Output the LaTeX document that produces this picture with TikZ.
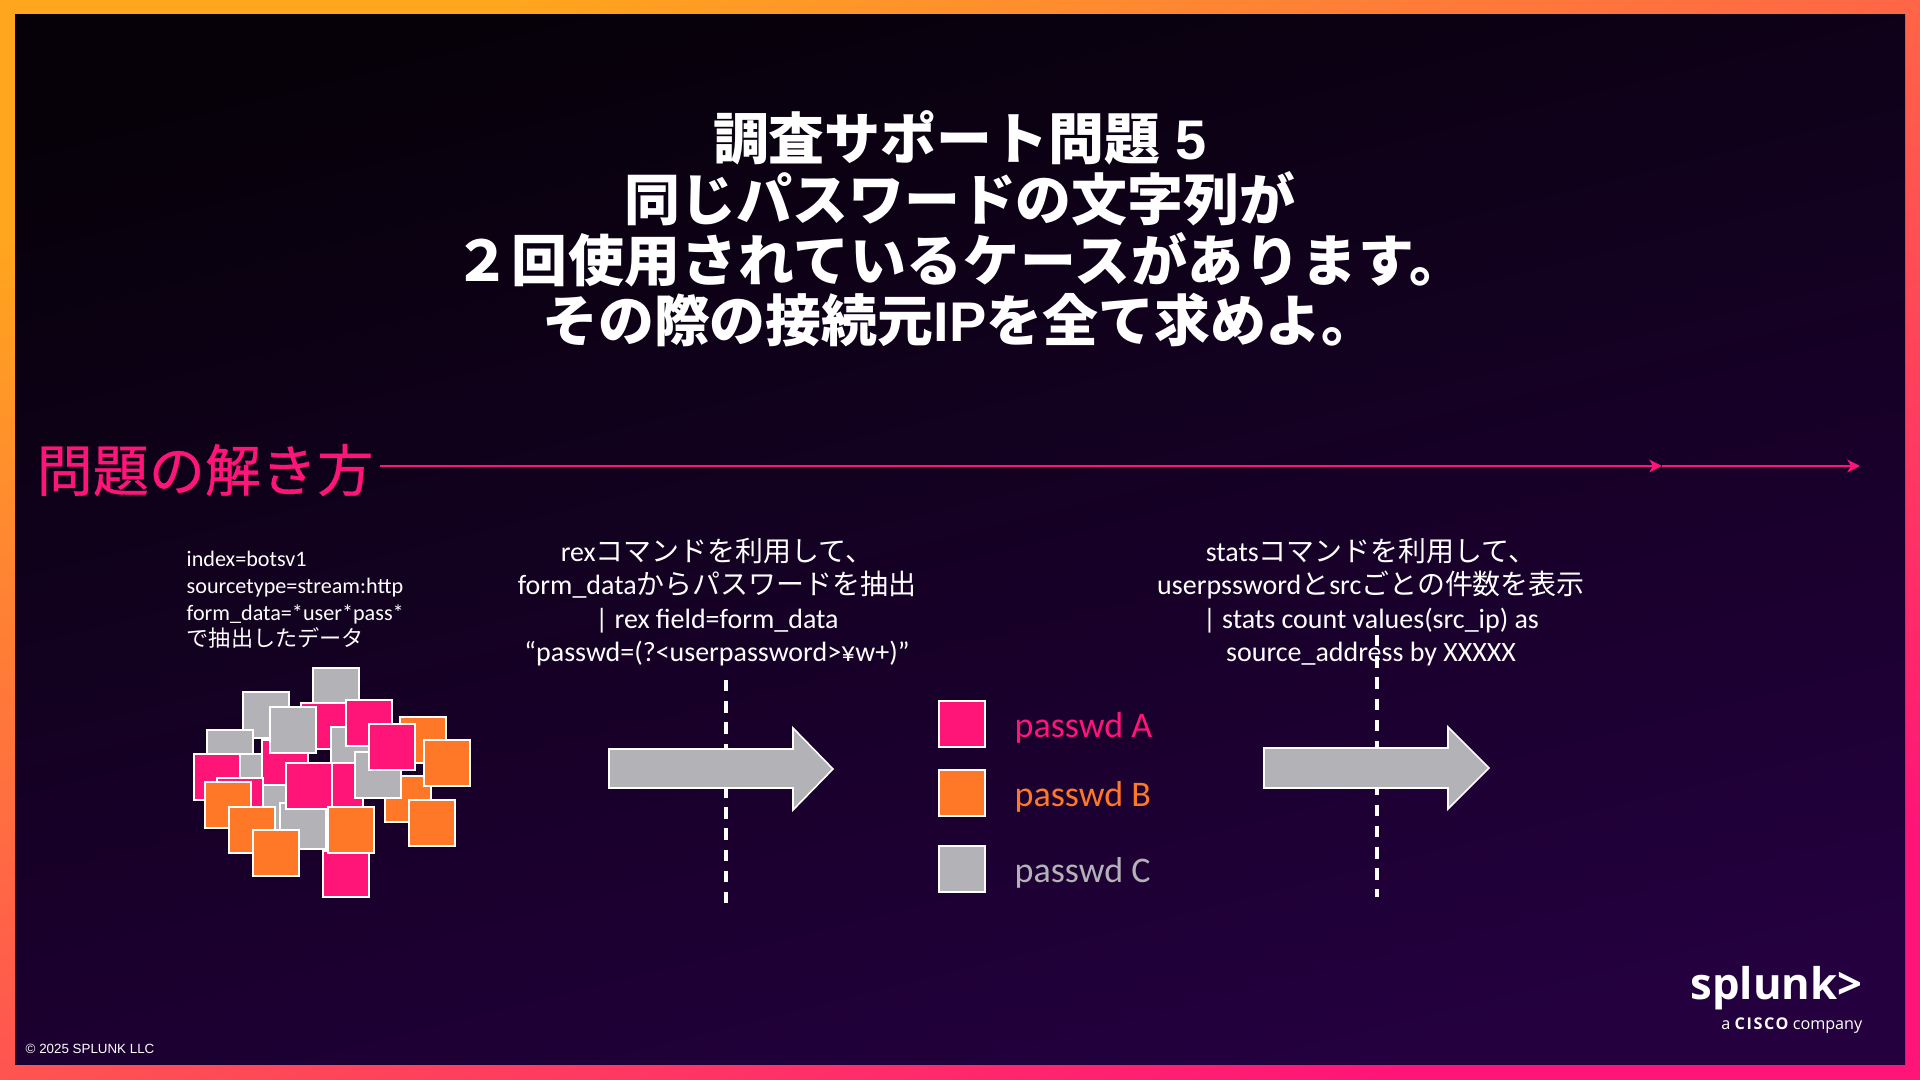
\documentclass[tikz,border=0pt]{standalone}
\usepackage{fontspec}
\setmainfont{Carlito}
\newfontfamily\jpfont{Noto Sans CJK JP}
\newfontfamily\jpwide[LetterSpace=1.5]{Noto Sans CJK JP}
\newfontfamily\jpheavy[FakeBold=0.6]{Noto Sans CJK JP}
\newfontfamily\headfont{Liberation Sans}
\newfontfamily\logofont{Open Sans}
\newfontfamily\ciscofont[LetterSpace=10]{Open Sans}
\newcommand{\jp}[1]{{\jpfont #1}}
\newcommand{\pxfont}[2]{\fontsize{#1}{#2}\selectfont}
\definecolor{chippink}{HTML}{FF1478}
\definecolor{chiporange}{HTML}{FF7828}
\definecolor{chipgray}{HTML}{B2B2B7}
\definecolor{frametop}{HTML}{FFA51E}
\definecolor{framemid}{HTML}{FF6A48}
\definecolor{inkdark}{HTML}{060109}
\definecolor{inkpurple}{HTML}{24003F}
\tikzset{
  chip/.style={draw=white,line width=0.45pt,fill=#1},
  bigarrow/.style={draw=white,line width=0.45pt,fill=chipgray},
  divider/.style={draw=white,line width=1pt,dash pattern=on 3.27pt off 2.76pt},
  flow/.style={draw=chippink,line width=0.6pt,-{Stealth[length=3.6pt,width=3.6pt,inset=1pt]}},
  bodytext/.style={text=white,inner sep=0pt,align=center,font=\pxfont{7.95}{9.55}},
  keylabel/.style={inner sep=0pt,anchor=west,font=\pxfont{10.25}{11}}
}
\usetikzlibrary{arrows.meta}
\begin{document}
\begin{tikzpicture}[x=0.01cm,y=-0.01cm]
\useasboundingbox (0,0) rectangle (1920,1080);
\shade[top color=frametop,middle color=framemid,bottom color=chippink,shading angle=25] (0,0) rectangle (1920,1080);
\shade[top color=inkdark,bottom color=inkpurple,shading angle=14] (15,15) rectangle (1905,1065);

\node[text=white,inner sep=0pt,align=center,font=\headfont\bfseries\pxfont{15.9}{17.3}] (title) at (960,229)
  {\jp{調査サポート問題} 5\\\jp{同じパスワードの文字列が}\\{\jpwide ２回使用されているケースがあります。}\\\jp{その際の接続元}IP\jp{を全て求めよ。}};

\node[text=chippink,inner sep=0pt,anchor=west,font=\jpheavy\pxfont{15.95}{17}] (howto) at (36,470) {問題の解き方};
\coordinate (flowa) at (1662,466);
\coordinate (flowb) at (1860,466);
\draw[flow] (howto.east |- flowa) ++(6,0) -- (flowa);
\draw[flow] (flowa) -- (flowb);

\node[text=white,inner sep=0pt,anchor=west,align=left,font=\pxfont{6.3}{7.6}] (query) at (186,600)
  {index=botsv1\\sourcetype=stream:http\\form\_data=*user*pass*\\\jp{で抽出したデータ}};

\foreach \cx/\cy/\cc in {313/668/chipgray,243/692/chipgray,301/703/chippink,207/730/chipgray,238/754/chipgray,
  262/740/chippink,400/717/chiporange,331/727/chipgray,346/700/chippink,270/707/chipgray,247/785/chipgray,
  194/754/chippink,217/778/chippink,205/782/chiporange,229/807/chiporange,280/803/chipgray,317/763/chippink,
  286/763/chippink,385/776/chiporange,424/740/chiporange,355/752/chipgray,369/724/chippink,409/800/chiporange,
  323/851/chippink,328/807/chiporange,253/830/chiporange}
  \draw[chip=\cc] (\cx,\cy) rectangle ++(46,46);

\node[bodytext] (rextext) at (717,602)
  {rex\jp{コマンドを利用して、}\\form\_data\jp{からパスワードを抽出}\\| rex field=form\_data\\“passwd=(?<userpassword>¥w+)”};
\node[bodytext] (statstext) at (1371,602)
  {stats\jp{コマンドを利用して、}\\userpssword\jp{と}src\jp{ごとの件数を表示}\\| stats count values(src\_ip) as\\source\_address by XXXXX};

\coordinate (rextop) at (726,680);
\coordinate (rexend) at (726,903);
\coordinate (statstop) at (1377,635);
\coordinate (statsend) at (1377,897);
\draw[divider] (rextop) -- (rexend);
\draw[divider] (statstop) -- (statsend);

\draw[bigarrow] (609,749) -- (793,749) -- (793,728) -- (833,769) -- (793,810) -- (793,788) -- (609,788) -- cycle;
\draw[bigarrow] (1264,748) -- (1448,748) -- (1448,727) -- (1489,768) -- (1448,809) -- (1448,788) -- (1264,788) -- cycle;

\draw[chip=chippink] (939,701) rectangle (985,747);
\draw[chip=chiporange] (939,770) rectangle (985,816);
\draw[chip=chipgray] (939,846) rectangle (985,892);

\node[keylabel,text=chippink] (keya) at (1014,728) {passwd A};
\node[keylabel,text=chiporange] (keyb) at (1014,797) {passwd B};
\node[keylabel,text=chipgray] (keyc) at (1014,873) {passwd C};

\node[text=white,inner sep=0pt,anchor=base east,font=\logofont\bfseries\pxfont{12.4}{14}] (logo) at (1863,1000) {splunk>};
\node[text=white,inner sep=0pt,anchor=base east,font=\logofont\pxfont{4.6}{5}] (cisco) at (1863,1030) {a {\ciscofont\bfseries CISCO} company};
\node[text=white,inner sep=0pt,anchor=west,font=\headfont\pxfont{3.8}{4}] (copyright) at (25,1049) {© 2025 SPLUNK LLC};
\end{tikzpicture}
\end{document}
